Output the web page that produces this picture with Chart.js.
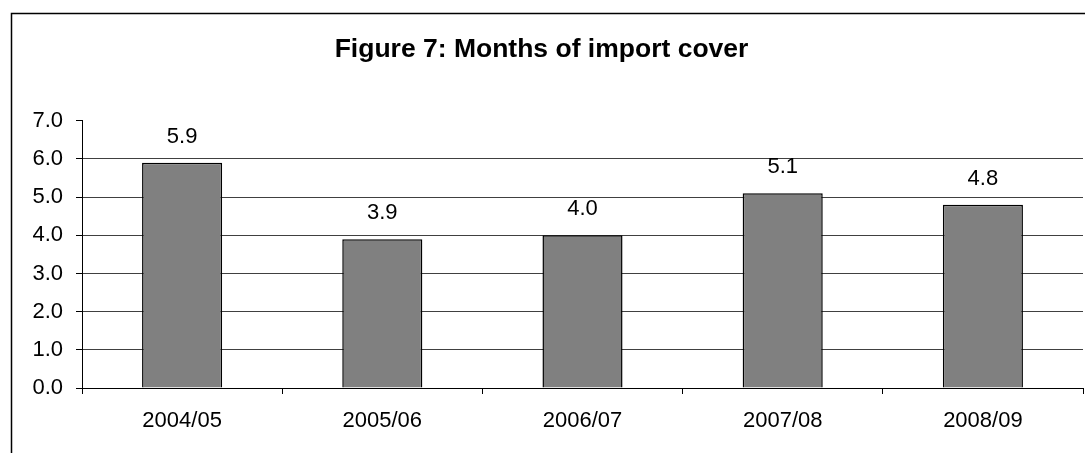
<!DOCTYPE html>
<html>
<head>
<meta charset="utf-8">
<title>Figure 7: Months of import cover</title>
<script src="https://cdn.jsdelivr.net/npm/chart.js@4/dist/chart.umd.min.js"></script>
<style>
  html, body { margin: 0; padding: 0; background: #fff; }
  canvas { display: block; }
</style>
</head>
<body>
<canvas id="importCover" width="1085" height="453"></canvas>
<script>
// data
const years = ['2004/05', '2005/06', '2006/07', '2007/08', '2008/09'];
const monthsCover = [5.9, 3.9, 4.0, 5.1, 4.8];
const yTicks = [0, 1, 2, 3, 4, 5, 6, 7];

const FONT = "'Liberation Sans', Arial, sans-serif";

// outer frame of the chart (only top and left edges fall inside the picture)
const framePlugin = {
  id: 'frame',
  beforeDraw(chart) {
    const ctx = chart.ctx;
    ctx.save();
    ctx.strokeStyle = '#000';
    ctx.lineWidth = 1.5;
    ctx.strokeRect(11.5, 13.5, chart.width + 50, chart.height + 50);
    ctx.restore();
  },
};

// value labels above each bar
const barLabels = {
  id: 'barLabels',
  afterDatasetsDraw(chart) {
    const ctx = chart.ctx;
    const meta = chart.getDatasetMeta(0);
    ctx.save();
    ctx.font = '22px ' + FONT;
    ctx.fillStyle = '#000';
    ctx.textAlign = 'center';
    ctx.textBaseline = 'middle';
    meta.data.forEach((bar, i) => {
      ctx.fillText(monthsCover[i].toFixed(1), bar.x, bar.y - 26);
    });
    ctx.restore();
  },
};

new Chart(document.getElementById('importCover'), {
  type: 'bar',
  data: {
    labels: years,
    datasets: [{
      data: monthsCover,
      backgroundColor: '#808080',
      borderColor: '#000',
      borderWidth: 1.5,
      categoryPercentage: 1,
      barPercentage: 0.4,
    }],
  },
  options: {
    responsive: false,
    animation: false,
    layout: { padding: { top: 0, right: 2, bottom: 0, left: 0 } },
    plugins: {
      legend: { display: false },
      tooltip: { enabled: false },
      title: {
        display: true,
        text: 'Figure 7: Months of import cover',
        color: '#000',
        font: { family: FONT, size: 26.5, weight: 'bold' },
        padding: { top: 34, bottom: 55 },
      },
    },
    scales: {
      x: {
        grid: {
          offset: true,
          drawOnChartArea: false,
          drawTicks: true,
          tickLength: 6,
          tickColor: '#000',
        },
        border: { color: '#000', width: 1 },
        ticks: { color: '#000', font: { family: FONT, size: 22 }, padding: 14 },
        afterFit(scale) { scale.height = 65; },
      },
      y: {
        min: yTicks[0],
        max: yTicks[yTicks.length - 1],
        afterBuildTicks(scale) {
          scale.ticks = yTicks.map(v => ({ value: v }));
        },
        grid: {
          color: ctx => (ctx.tick && ctx.tick.value === 7 ? 'rgba(0,0,0,0)' : '#404040'),
          tickColor: '#000',
          tickLength: 6,
          lineWidth: 1,
        },
        border: { color: '#000', width: 1 },
        ticks: {
          color: '#000',
          font: { family: FONT, size: 22 },
          padding: 13,
          callback: v => Number(v).toFixed(1),
        },
        afterFit(scale) { scale.width = 82; },
      },
    },
  },
  plugins: [framePlugin, barLabels],
});
</script>
</body>
</html>
